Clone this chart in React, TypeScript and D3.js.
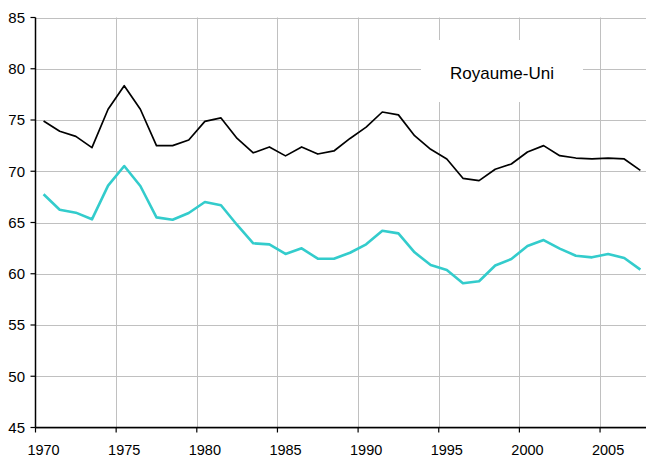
import React from "react";
import * as d3 from "d3";

const years: number[] = d3.range(1970, 2008);
const blackSeries: number[] = [
  74.9, 73.9, 73.4, 72.3, 76.05, 78.35, 76.05, 72.5, 72.5, 73.05,
  74.87, 75.2, 73.2, 71.8, 72.37, 71.5, 72.37, 71.68, 71.98, 73.2,
  74.3, 75.78, 75.5, 73.47, 72.14, 71.2, 69.31, 69.08, 70.19, 70.71,
  71.88, 72.5, 71.52, 71.29, 71.2, 71.29, 71.2, 70.09,
];
const cyanSeries: number[] = [
  67.75, 66.25, 65.96, 65.31, 68.6, 70.51, 68.56, 65.5, 65.27, 65.93,
  67.0, 66.68, 64.76, 62.97, 62.87, 61.93, 62.48, 61.47, 61.47, 62.05,
  62.87, 64.2, 63.94, 62.09, 60.85, 60.37, 59.07, 59.27, 60.8, 61.44,
  62.7, 63.29, 62.45, 61.76, 61.6, 61.93, 61.54, 60.4,
];
const yTicks: number[] = [45, 50, 55, 60, 65, 70, 75, 80, 85];
const xTickYears: number[] = [1970, 1975, 1980, 1985, 1990, 1995, 2000, 2005];
const label = "Royaume-Uni";

export default function App() {
  const W = 646, H = 457;
  const left = 35.5, top = 17.5, bottom = 427.5;
  const band = 16.13;
  const x = d3.scaleBand<number>().domain(years).range([left, left + band * years.length]).paddingInner(0).paddingOuter(0);
  const y = d3.scaleLinear().domain([45, 85]).range([bottom, top]);
  const xc = (yr: number) => (x(yr) as number) + x.bandwidth() / 2;
  const line = d3.line<number>().x((_, i) => xc(years[i])).y((d) => y(d));
  const right = W + 5;
  const font = "Liberation Sans, Arial, sans-serif";
  return (
    <svg width={W} height={H} style={{ position: "absolute", left: 0, top: 0, background: "#fff" }} fontFamily={font}>
      <rect x={0} y={0} width={W} height={H} fill="#fff" />
      {yTicks.map((t) => (
        <line key={"gy" + t} x1={left} x2={right} y1={Math.round(y(t)) + 0.5} y2={Math.round(y(t)) + 0.5} stroke="#c0c0c0" strokeWidth={1} />
      ))}
      {xTickYears.filter((yr) => yr > 1970).map((yr) => (
        <line key={"gx" + yr} x1={Math.round(x(yr) as number) + 0.5} x2={Math.round(x(yr) as number) + 0.5} y1={top} y2={bottom} stroke="#c0c0c0" strokeWidth={1} />
      ))}
      <rect x={421} y={40} width={162} height={62} fill="#fff" />
      <text x={502} y={78.5} fontSize={17} textAnchor="middle" fill="#000">{label}</text>
      <path d={line(cyanSeries) || ""} fill="none" stroke="#33cccc" strokeWidth={2.6} strokeLinejoin="round" />
      <path d={line(blackSeries) || ""} fill="none" stroke="#000" strokeWidth={1.7} strokeLinejoin="round" />
      <line x1={left} x2={left} y1={top} y2={bottom} stroke="#000" strokeWidth={1.5} />
      <line x1={left} x2={right} y1={bottom} y2={bottom} stroke="#000" strokeWidth={1.5} />
      {yTicks.map((t) => (
        <g key={"ty" + t}>
          <line x1={left - 5} x2={left} y1={y(t)} y2={y(t)} stroke="#000" strokeWidth={1.2} />
          <text x={25} y={y(t)} dy="0.36em" fontSize={15} textAnchor="end" fill="#000">{t}</text>
        </g>
      ))}
      {xTickYears.map((yr) => (
        <g key={"tx" + yr}>
          <line x1={x(yr) as number} x2={x(yr) as number} y1={bottom} y2={bottom + 5} stroke="#000" strokeWidth={1.2} />
          <text x={xc(yr)} y={454.5} fontSize={14.5} textAnchor="middle" fill="#000">{yr}</text>
        </g>
      ))}
    </svg>
  );
}
